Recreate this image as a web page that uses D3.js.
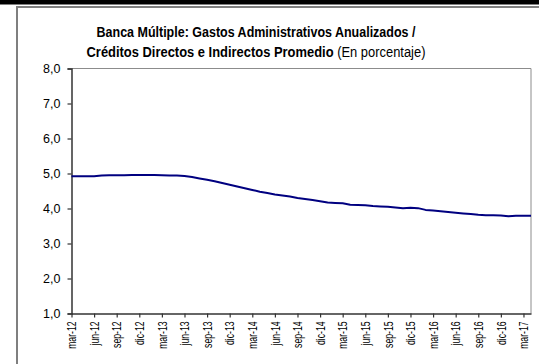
<!DOCTYPE html>
<html>
<head>
<meta charset="utf-8">
<script src="https://cdn.jsdelivr.net/npm/d3@7"></script>
<style>
  html, body { margin: 0; padding: 0; background: #fff; overflow: hidden; }
  svg { display: block; }
</style>
</head>
<body>
<svg id="chart" width="539" height="364"></svg>
<script>
// Monthly periods, mar-12 through apr-17
const months = ["ene","feb","mar","abr","may","jun","jul","ago","sep","oct","nov","dic"];
const periods = [];
for (let y = 2012, m = 2; y < 2017 || (y === 2017 && m <= 3); ) {
  periods.push(months[m] + "-" + String(y).slice(2));
  m++; if (m === 12) { m = 0; y++; }
}

// Gastos administrativos anualizados / créditos promedio (%)
const ratio = [
  4.92, 4.92, 4.92, 4.92, 4.94, 4.95, 4.95, 4.95, 4.96, 4.96,
  4.96, 4.96, 4.95, 4.94, 4.94, 4.93, 4.90, 4.86, 4.82, 4.78,
  4.73, 4.68, 4.63, 4.58, 4.53, 4.48, 4.44, 4.40, 4.37, 4.34,
  4.30, 4.27, 4.24, 4.21, 4.17, 4.16, 4.15, 4.11, 4.10, 4.09,
  4.07, 4.06, 4.05, 4.03, 4.01, 4.02, 4.01, 3.96, 3.94, 3.92,
  3.90, 3.88, 3.86, 3.84, 3.82, 3.81, 3.81, 3.80, 3.78, 3.79,
  3.79, 3.79
];

// Axis labels
const xTickLabels = periods.filter((p, i) => i % 3 === 0);
const yTicks = [1, 2, 3, 4, 5, 6, 7, 8];

const svg = d3.select("#chart");
const sans = "'Liberation Sans', Arial, sans-serif";

// Outer frame
svg.append("rect").attr("x", 0).attr("y", 0).attr("width", 539).attr("height", 4.5).attr("fill", "#000");
svg.append("line").attr("x1", 17).attr("x2", 17).attr("y1", 6).attr("y2", 364)
  .attr("stroke", "#7f7f7f").attr("stroke-width", 2);
svg.append("line").attr("x1", 16).attr("x2", 539).attr("y1", 7).attr("y2", 7)
  .attr("stroke", "#7f7f7f").attr("stroke-width", 2);

// Title, condensed horizontally around its centre
function titleLine(yPos, width, parts) {
  const g = svg.append("g");
  const t = g.append("text").attr("text-anchor", "middle").attr("x", 0).attr("y", yPos)
    .attr("font-family", sans).attr("font-size", 15).attr("fill", "#000");
  parts.forEach(p => t.append("tspan").attr("font-weight", p.bold ? "bold" : "normal").text(p.text));
  const k = width / t.node().getComputedTextLength();
  g.attr("transform", `translate(256,0) scale(${k},1)`);
}
titleLine(37, 319, [{ text: "Banca Múltiple: Gastos Administrativos Anualizados /", bold: true }]);
titleLine(57, 339, [
  { text: "Créditos Directos e Indirectos Promedio", bold: true },
  { text: " (En porcentaje)", bold: false }
]);

const x = d3.scalePoint().domain(periods).range([71.5, 531]);
const y = d3.scaleLinear().domain([1, 8]).range([313.5, 68.5]);

// Plot-area border (top and right)
svg.append("path")
  .attr("d", `M71.5,${y(8)}H531V${y(1)}`)
  .attr("fill", "none").attr("stroke", "#8c8c8c").attr("stroke-width", 1);

// Y axis
const yAxis = svg.append("g").attr("transform", "translate(71.5,0)")
  .call(d3.axisLeft(y).tickValues(yTicks).tickSize(4).tickPadding(7)
    .tickFormat(d => d3.format(".1f")(d).replace(".", ",")));
yAxis.selectAll("text").attr("font-family", sans)
  .attr("font-size", 12.5).attr("fill", "#000");
yAxis.select(".domain").attr("stroke", "#333").attr("stroke-width", 1.5);
yAxis.selectAll(".tick line").attr("stroke", "#333").attr("stroke-width", 1.2);

// X axis
const xAxis = svg.append("g").attr("transform", `translate(0,${y(1)})`)
  .call(d3.axisBottom(x).tickValues(xTickLabels).tickSize(4).tickSizeOuter(0));
xAxis.select(".domain").attr("stroke", "#333").attr("stroke-width", 1.5);
xAxis.selectAll(".tick line").attr("stroke", "#333").attr("stroke-width", 1.2);
xAxis.selectAll("text")
  .attr("font-family", sans)
  .attr("font-size", 12).attr("fill", "#000")
  .attr("text-anchor", "end")
  .attr("transform", "rotate(-90)")
  .attr("x", -8).attr("y", 0).attr("dy", "0.35em")
  .each(function () {
    const len = this.getComputedTextLength();
    d3.select(this).attr("textLength", len * 0.72).attr("lengthAdjust", "spacingAndGlyphs");
  });

// Series line
const line = d3.line().x((d, i) => x(periods[i])).y(d => y(d));
svg.append("path").datum(ratio)
  .attr("d", line)
  .attr("fill", "none").attr("stroke", "#000080").attr("stroke-width", 2)
  .attr("stroke-linejoin", "round");
</script>
</body>
</html>
